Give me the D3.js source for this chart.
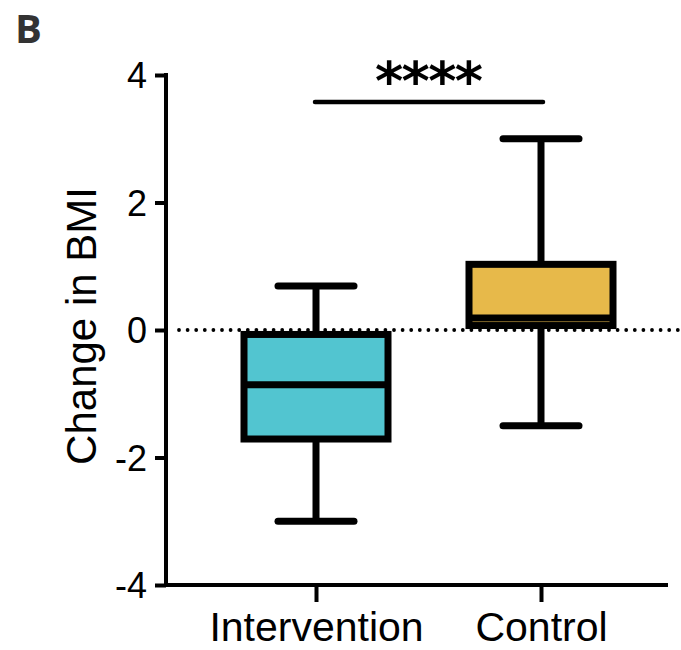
<!DOCTYPE html>
<html>
<head>
<meta charset="utf-8">
<script src="https://cdn.jsdelivr.net/npm/d3@7"></script>
<style>
  html, body { margin: 0; padding: 0; background: #fff; }
  svg { display: block; }
</style>
</head>
<body>
<svg id="chart" width="681" height="650"></svg>
<script>
// ---- data ----
const categories = ["Intervention", "Control"];
const whiskerMin = [-3.0, -1.5];
const q1         = [-1.71, 0.07];
const median     = [-0.86, 0.19];
const q3         = [-0.07, 1.03];
const whiskerMax = [0.69, 3.0];
const fills      = ["#52C5D0", "#E7B94A"];
const yTicks     = [-4, -2, 0, 2, 4];
const yTitle     = "Change in BMI";
const panelLabel = "B";
const sigLabel   = "****";

// ---- layout ----
const svg = d3.select("#chart");
const axisX0 = 166, axisX1 = 668, axisYTop = 75, axisYBot = 585;
const y = d3.scaleLinear().domain([-4, 4]).range([axisYBot, axisYTop]);
const x = d3.scalePoint().domain(categories).range([316, 541]);
const boxHalf = 72, capHalf = 38, lw = 7;
const fontFam = "'Liberation Sans', Arial, Helvetica, sans-serif";

// panel label
svg.append("text").attr("x", 15).attr("y", 43)
  .attr("font-family", "'Open Sans', 'DejaVu Sans', sans-serif")
  .attr("font-weight", 700).attr("font-size", 40).attr("fill", "#333")
  .text(panelLabel);

// dotted zero line (behind)
svg.append("line")
  .attr("x1", 179).attr("x2", 679)
  .attr("y1", y(0)).attr("y2", y(0))
  .attr("stroke", "#000").attr("stroke-width", 3.8)
  .attr("stroke-linecap", "round")
  .attr("stroke-dasharray", "0 8.6");

// boxes
const data = categories.map((c, i) => ({
  c, min: whiskerMin[i], q1: q1[i], med: median[i], q3: q3[i], max: whiskerMax[i], fill: fills[i]
}));
const g = svg.append("g");
data.forEach(d => {
  const cx = x(d.c);
  g.append("line").attr("x1", cx).attr("x2", cx).attr("y1", y(d.max)).attr("y2", y(d.q3))
    .attr("stroke", "#000").attr("stroke-width", lw);
  g.append("line").attr("x1", cx).attr("x2", cx).attr("y1", y(d.q1)).attr("y2", y(d.min))
    .attr("stroke", "#000").attr("stroke-width", lw);
  [d.max, d.min].forEach(v => {
    g.append("line").attr("x1", cx - capHalf).attr("x2", cx + capHalf)
      .attr("y1", y(v)).attr("y2", y(v))
      .attr("stroke", "#000").attr("stroke-width", lw).attr("stroke-linecap", "round");
  });
  g.append("rect").attr("x", cx - boxHalf).attr("width", 2 * boxHalf)
    .attr("y", y(d.q3)).attr("height", y(d.q1) - y(d.q3))
    .attr("fill", d.fill).attr("stroke", "#000").attr("stroke-width", lw);
  g.append("line").attr("x1", cx - boxHalf).attr("x2", cx + boxHalf)
    .attr("y1", y(d.med)).attr("y2", y(d.med))
    .attr("stroke", "#000").attr("stroke-width", lw);
});

// y axis
const yAxis = svg.append("g").attr("transform", `translate(${axisX0},0)`)
  .call(d3.axisLeft(y).tickValues(yTicks).tickSize(11).tickSizeOuter(0).tickPadding(8)
    .tickFormat(d => String(d)));
yAxis.select(".domain").attr("stroke-width", 4).attr("d", `M0,${axisYTop - 2}V${axisYBot + 2}`);
yAxis.selectAll(".tick line").attr("stroke-width", 4);
yAxis.selectAll(".tick text").attr("font-family", fontFam).attr("font-size", 36).attr("fill", "#000")
  .attr("dy", "0.36em");

// x axis
const xAxis = svg.append("g").attr("transform", `translate(0,${axisYBot})`)
  .call(d3.axisBottom(x).tickSize(17).tickSizeOuter(0).tickPadding(10));
xAxis.select(".domain").attr("stroke-width", 4).attr("d", `M${axisX0 - 2},0H${axisX1}`);
xAxis.selectAll(".tick line").attr("stroke-width", 4);
xAxis.selectAll(".tick text").attr("font-family", fontFam).attr("font-size", 41).attr("fill", "#000")
  .attr("dy", "0").attr("y", 56);

// y title
svg.append("text")
  .attr("transform", `translate(96,${(axisYTop + axisYBot) / 2 - 4}) rotate(-90)`)
  .attr("text-anchor", "middle")
  .attr("font-family", fontFam).attr("font-size", 42).attr("fill", "#000")
  .text(yTitle);

// significance bar
svg.append("line").attr("x1", 315).attr("x2", 543).attr("y1", 102).attr("y2", 102)
  .attr("stroke", "#000").attr("stroke-width", 4.5).attr("stroke-linecap", "round");
svg.append("text").attr("x", 429).attr("y", 100)
  .attr("text-anchor", "middle")
  .attr("font-family", "'DejaVu Sans', sans-serif").attr("font-weight", 700)
  .attr("font-size", 54).attr("fill", "#000")
  .attr("textLength", 108).attr("lengthAdjust", "spacing")
  .text(sigLabel);
</script>
</body>
</html>
